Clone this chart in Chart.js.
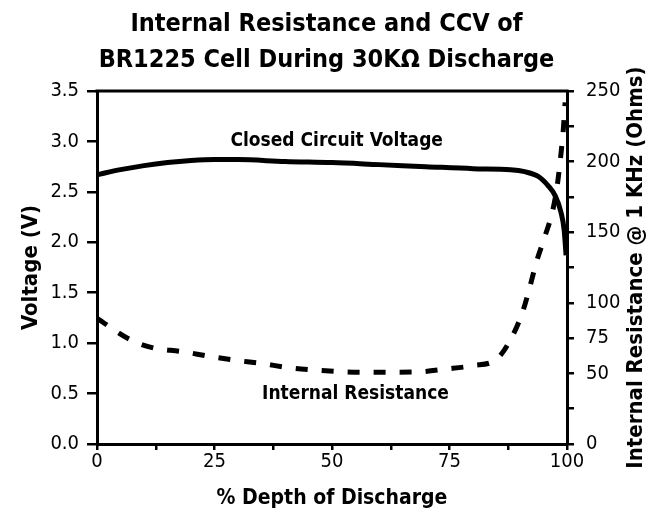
<!DOCTYPE html>
<html>
<head>
<meta charset="utf-8">
<script src="https://cdn.jsdelivr.net/npm/chart.js@4.4.1/dist/chart.umd.min.js"></script>
<style>
  html, body { margin: 0; padding: 0; background: #fff; }
</style>
</head>
<body>
<canvas id="plotarea" width="653" height="524"></canvas>
<script>
const FONT = "'Liberation Sans Narrow', 'DejaVu Sans Condensed', sans-serif";

// title + axis texts
const titleLines = ['Internal Resistance and CCV of', 'BR1225 Cell During 30K\u03A9 Discharge'];
const xTitle = '% Depth of Discharge';
const leftTitle = 'Voltage (V)';
const rightTitle = 'Internal Resistance @ 1 KHz (Ohms)';

// closed circuit voltage, left axis
const ccvDepth = [0, 5, 10, 15, 20, 25, 30, 40, 50, 60, 70, 80, 88, 91, 94, 96, 97.5, 98.7, 99.4, 99.8];
const ccvVolt  = [2.67, 2.72, 2.76, 2.79, 2.81, 2.82, 2.82, 2.80, 2.79, 2.77, 2.75, 2.73, 2.72, 2.70, 2.65, 2.56, 2.46, 2.30, 2.12, 1.87];

// internal resistance, right axis
const irDepth = [0, 7, 12, 18, 24, 29, 35, 41, 46, 52, 57, 63, 69, 74, 80, 85, 88, 90.5, 92, 93.5, 95.3, 97, 98, 98.7, 99.2, 99.6];
const irOhms  = [89, 74, 68, 65.5, 62, 59.5, 57, 54, 52.5, 51.2, 50.8, 50.8, 51.2, 53, 55.5, 60, 74, 93, 110, 129, 147, 166, 185, 205, 222, 242];

// which tick values get a label
const xLabels = [0, 25, 50, 75, 100];
const ohmLabels = [0, 50, 75, 100, 150, 200, 250];

// in-plot labels: [text, % depth, volts]
const notes = [
  ['Closed Circuit Voltage', 51, 3.0],
  ['Internal Resistance', 55, 0.5]
];

const toXY = (xs, ys) => xs.map((x, i) => ({ x: x, y: ys[i] }));

const extras = {
  id: 'extras',
  afterDraw(chart) {
    const { ctx, chartArea: a, scales } = chart;
    ctx.save();
    // top frame line
    ctx.strokeStyle = '#000';
    ctx.lineWidth = 3;
    ctx.beginPath();
    ctx.moveTo(a.left - 1.5, a.top);
    ctx.lineTo(a.right + 1.5, a.top);
    ctx.stroke();

    ctx.fillStyle = '#000';
    ctx.textAlign = 'center';
    ctx.textBaseline = 'middle';
    ctx.font = 'bold 19px ' + FONT;
    notes.forEach(n => {
      ctx.fillText(n[0], scales.x.getPixelForValue(n[1]), scales.y.getPixelForValue(n[2]));
    });

    // right axis title reads bottom to top
    ctx.font = 'bold 22px ' + FONT;
    ctx.translate(636, (a.top + a.bottom) / 2);
    ctx.rotate(-Math.PI / 2);
    ctx.fillText(rightTitle, 0, 0);
    ctx.restore();
  }
};

const tickFont = { family: FONT, size: 20 };

const config = {
  type: 'line',
  data: {
    datasets: [
      {
        label: 'CCV',
        data: toXY(ccvDepth, ccvVolt),
        borderColor: '#000',
        borderWidth: 5,
        pointRadius: 0,
        cubicInterpolationMode: 'monotone',
        yAxisID: 'y'
      },
      {
        label: 'Internal Resistance',
        data: toXY(irDepth, irOhms),
        borderColor: '#000',
        borderWidth: 5,
        borderDash: [12, 14],
        pointRadius: 0,
        cubicInterpolationMode: 'monotone',
        yAxisID: 'y1'
      }
    ]
  },
  options: {
    responsive: false,
    animation: false,
    devicePixelRatio: 1,
    layout: { padding: 0 },
    plugins: {
      legend: { display: false },
      tooltip: { enabled: false },
      title: {
        display: true,
        text: titleLines,
        color: '#000',
        font: { family: FONT, size: 25, weight: 'bold', lineHeight: '36px' },
        padding: { top: 6, bottom: 13 }
      }
    },
    scales: {
      x: {
        type: 'linear',
        min: 0,
        max: 100,
        ticks: {
          stepSize: 12.5,
          autoSkip: false,
          maxRotation: 0,
          color: '#000',
          font: tickFont,
          padding: 0,
          callback: v => xLabels.includes(v) ? v : ''
        },
        grid: { drawOnChartArea: false, color: '#000', lineWidth: 2.5, tickLength: 6 },
        border: { color: '#000', width: 3 },
        title: {
          display: true,
          text: xTitle,
          color: '#000',
          font: { family: FONT, size: 21, weight: 'bold', lineHeight: 1.2 },
          padding: { bottom: 13 }
        },
        afterFit: s => { s.height = 80; }
      },
      y: {
        position: 'left',
        min: 0,
        max: 3.5,
        ticks: {
          stepSize: 0.5,
          color: '#000',
          font: tickFont,
          padding: 8,
          callback: v => v.toFixed(1)
        },
        grid: { drawOnChartArea: false, color: '#000', lineWidth: 2.5, tickLength: 10 },
        border: { color: '#000', width: 3 },
        title: {
          display: true,
          text: leftTitle,
          color: '#000',
          font: { family: FONT, size: 22, weight: 'bold', lineHeight: 1.2 },
          padding: { top: 18 }
        },
        afterFit: s => { s.width = 97; }
      },
      y1: {
        position: 'right',
        min: 0,
        max: 250,
        ticks: {
          stepSize: 25,
          color: '#000',
          font: tickFont,
          padding: 12,
          callback: v => ohmLabels.includes(v) ? v : ''
        },
        grid: { drawOnChartArea: false, color: '#000', lineWidth: 2.5, tickLength: 7 },
        border: { color: '#000', width: 3 },
        afterFit: s => { s.width = 86; }
      }
    }
  },
  plugins: [extras]
};

const myChart = new Chart(document.getElementById('plotarea'), config);
</script>
</body>
</html>
